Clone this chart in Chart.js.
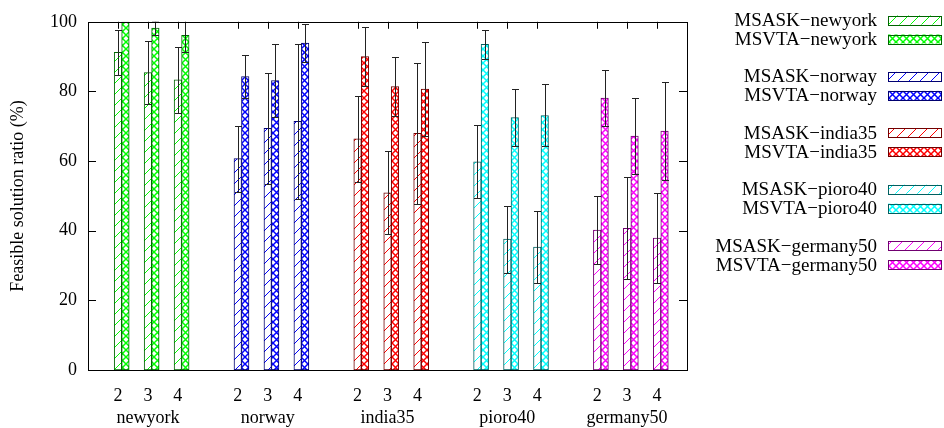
<!DOCTYPE html>
<html>
<head>
<meta charset="utf-8">
<script src="https://cdn.jsdelivr.net/npm/chart.js@4.4.1/dist/chart.umd.min.js"></script>
<style>
  body { margin: 0; background: #fff; }
</style>
</head>
<body>
<canvas id="myChart" width="944" height="428"></canvas>
<script>
// groups of topologies and k values
const groups = ['newyork', 'norway', 'india35', 'pioro40', 'germany50'];
const kLabels = ['2', '3', '4'];

// feasible solution ratio (%) per group, for k = 2, 3, 4
const msaskMean = [
    [91.2, 85.4, 83.3],
    [60.7, 69.4, 71.4],
    [66.4, 50.9, 68.0],
    [59.8, 37.6, 35.3],
    [40.2, 40.7, 37.9]
];
const msaskErr = [
    [6.5, 9.0, 9.4],
    [9.5, 16.0, 22.2],
    [12.4, 11.9, 20.2],
    [10.5, 9.6, 10.4],
    [9.9, 14.7, 12.9]
];
const msvtaMean = [
    [100, 98.2, 96.1],
    [84.3, 83.1, 93.9],
    [90.0, 81.4, 80.7],
    [93.5, 72.5, 73.1],
    [78.1, 67.2, 68.6]
];
const msvtaErr = [
    [0, 2.1, 4.9],
    [6.2, 10.5, 5.5],
    [8.5, 8.5, 13.6],
    [4.2, 8.2, 8.9],
    [8.0, 11.0, 14.1]
];

const yTicks = [0, 20, 40, 60, 80, 100];

const lineColors = ['#00ff00', '#0000ff', '#ff0000', '#00ffff', '#ff00ff'];
const edgeColors = ['#006400', '#000070', '#700000', '#006060', '#700070'];

const FONT = "'Liberation Serif', 'DejaVu Serif', serif";

// slot on the x axis: 3 k values per group plus one empty slot
function slotOf(g, j) {
    return g * 4 + j;
}

function hatchPattern(color) {
    const s = 11;
    const c = document.createElement('canvas');
    c.width = s; c.height = s;
    const x = c.getContext('2d');
    x.fillStyle = '#fff';
    x.fillRect(0, 0, s, s);
    x.strokeStyle = color;
    x.lineWidth = 1;
    x.beginPath();
    x.moveTo(-1, 1); x.lineTo(1, -1);
    x.moveTo(0, s); x.lineTo(s, 0);
    x.moveTo(s - 1, s + 1); x.lineTo(s + 1, s - 1);
    x.stroke();
    return x.createPattern(c, 'repeat');
}

function crossPattern(color) {
    const s = 7;
    const c = document.createElement('canvas');
    c.width = s; c.height = s;
    const x = c.getContext('2d');
    x.fillStyle = '#fff';
    x.fillRect(0, 0, s, s);
    x.strokeStyle = color;
    x.lineWidth = 1.5;
    x.beginPath();
    x.moveTo(0, 0); x.lineTo(s, s);
    x.moveTo(0, s); x.lineTo(s, 0);
    x.stroke();
    return x.createPattern(c, 'repeat');
}

const datasets = [];
const errors = [];
groups.forEach((name, g) => {
    datasets.push({
        label: 'MSASK\u2212' + name,
        data: kLabels.map((k, j) => ({ x: slotOf(g, j), y: msaskMean[g][j] })),
        backgroundColor: hatchPattern(lineColors[g]),
        borderColor: edgeColors[g],
        borderWidth: 1,
        borderSkipped: false
    });
    errors.push(msaskErr[g]);
    datasets.push({
        label: 'MSVTA\u2212' + name,
        data: kLabels.map((k, j) => ({ x: slotOf(g, j) + 0.25, y: msvtaMean[g][j] })),
        backgroundColor: crossPattern(lineColors[g]),
        borderColor: edgeColors[g],
        borderWidth: 1,
        borderSkipped: false
    });
    errors.push(msvtaErr[g]);
});

const slots = [];
groups.forEach((name, g) => kLabels.forEach((k, j) => slots.push(slotOf(g, j))));

// inside tick marks, gnuplot style
const tickMarks = {
    id: 'tickMarks',
    beforeDatasetsDraw(chart) {
        const { ctx, chartArea: a, scales } = chart;
        ctx.save();
        ctx.strokeStyle = '#000';
        ctx.lineWidth = 1;
        ctx.beginPath();
        yTicks.forEach(v => {
            const y = Math.round(scales.y.getPixelForValue(v)) + 0.5;
            ctx.moveTo(a.left, y); ctx.lineTo(a.left + 8, y);
            ctx.moveTo(a.right, y); ctx.lineTo(a.right - 8, y);
        });
        slots.forEach(v => {
            const x = Math.round(scales.x.getPixelForValue(v)) + 0.5;
            ctx.moveTo(x, a.top); ctx.lineTo(x, a.top + 7);
            ctx.moveTo(x, a.bottom); ctx.lineTo(x, a.bottom - 7);
        });
        ctx.stroke();
        ctx.restore();
    }
};

const errorBars = {
    id: 'errorBars',
    afterDatasetsDraw(chart) {
        const { ctx, chartArea: a, scales } = chart;
        ctx.save();
        ctx.beginPath();
        ctx.rect(a.left, a.top, a.right - a.left, a.bottom - a.top);
        ctx.clip();
        ctx.strokeStyle = '#222';
        ctx.lineWidth = 1;
        ctx.beginPath();
        chart.data.datasets.forEach((ds, i) => {
            const meta = chart.getDatasetMeta(i);
            meta.data.forEach((bar, j) => {
                const e = errors[i][j];
                if (!e) return;
                const v = ds.data[j].y;
                const x = Math.round(bar.x) + 0.5;
                const y1 = Math.round(scales.y.getPixelForValue(v - e)) + 0.5;
                const y2 = Math.round(scales.y.getPixelForValue(v + e)) + 0.5;
                ctx.moveTo(x, y1); ctx.lineTo(x, y2);
                ctx.moveTo(x - 3.5, y1); ctx.lineTo(x + 3.5, y1);
                ctx.moveTo(x - 3.5, y2); ctx.lineTo(x + 3.5, y2);
            });
        });
        ctx.stroke();
        ctx.restore();

        // frame around the plot
        ctx.save();
        ctx.strokeStyle = '#000';
        ctx.lineWidth = 1;
        ctx.strokeRect(Math.round(a.left) + 0.5, Math.round(a.top) + 0.5,
            Math.round(a.right - a.left), Math.round(a.bottom - a.top));
        ctx.restore();
    }
};

// legend on the right, pairs separated by a gap
const sideLegend = {
    id: 'sideLegend',
    afterDraw(chart) {
        const ctx = chart.ctx;
        ctx.save();
        ctx.font = '19px ' + FONT;
        ctx.textAlign = 'right';
        ctx.textBaseline = 'middle';
        chart.data.datasets.forEach((ds, i) => {
            const pair = Math.floor(i / 2);
            const y = 20 + pair * 56.4 + (i % 2) * 19;
            ctx.fillStyle = '#000';
            ctx.fillText(ds.label, 877, y + 1);
            ctx.fillStyle = ds.backgroundColor;
            ctx.fillRect(888, y - 4.5, 53, 9);
            ctx.strokeStyle = ds.borderColor;
            ctx.lineWidth = 1;
            ctx.strokeRect(888.5, Math.round(y - 4.5) + 0.5, 53, 9);
        });
        ctx.restore();
    }
};

Chart.defaults.font.family = FONT;
Chart.defaults.font.size = 18;
Chart.defaults.color = '#000';

new Chart('myChart', {
    type: 'bar',
    data: { datasets: datasets },
    options: {
        responsive: false,
        animation: false,
        layout: { padding: { top: 12, right: 257, left: 0, bottom: 0 } },
        datasets: {
            bar: { grouped: false, barThickness: 7.5 }
        },
        plugins: {
            legend: { display: false },
            tooltip: { enabled: false }
        },
        scales: {
            x: {
                type: 'linear',
                min: -1,
                max: 19,
                offset: false,
                grid: { display: false, drawTicks: false },
                border: { display: false },
                afterBuildTicks: (axis) => {
                    axis.ticks = slots.map(v => ({ value: v }));
                },
                afterFit: (axis) => { axis.height = 58; },
                ticks: {
                    autoSkip: false,
                    maxRotation: 0,
                    padding: 15,
                    font: { size: 18, lineHeight: 1.22 },
                    callback: function (value) {
                        const g = Math.floor(value / 4);
                        const j = value % 4;
                        if (j === 1) return [kLabels[j], groups[g]];
                        return kLabels[j];
                    }
                }
            },
            y: {
                min: 0,
                max: 100,
                grid: { display: false, drawTicks: false },
                border: { display: false },
                afterFit: (axis) => { axis.width = 88; },
                ticks: {
                    stepSize: 20,
                    padding: 11
                },
                title: {
                    display: true,
                    text: 'Feasible solution ratio (%)',
                    font: { size: 18 },
                    padding: { top: 7, bottom: 0 }
                }
            }
        }
    },
    plugins: [tickMarks, errorBars, sideLegend]
});
</script>
</body>
</html>
